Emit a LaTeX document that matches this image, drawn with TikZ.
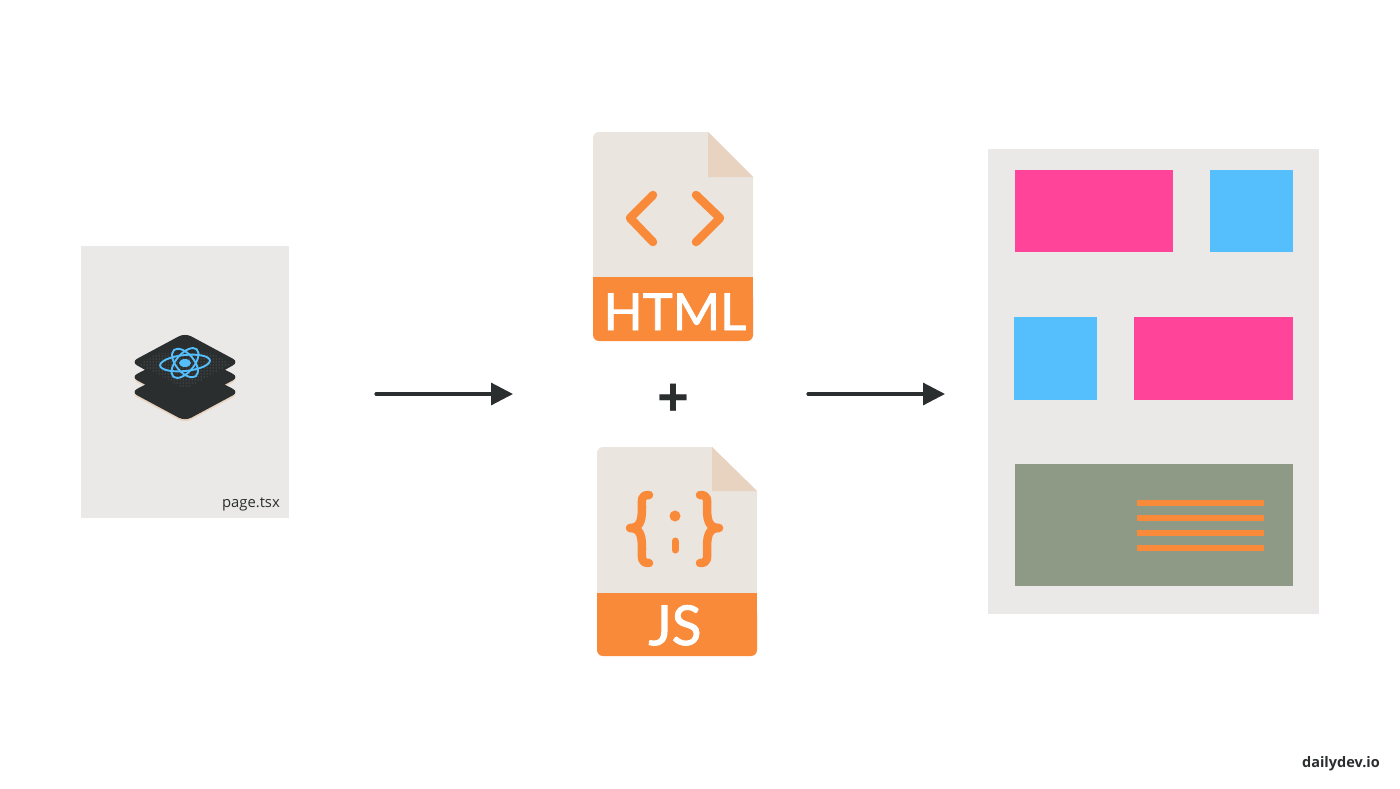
\documentclass[tikz,border=0pt]{standalone}
\usepackage{fontspec}
\setmainfont{Open Sans}
\newfontfamily\badgefont[FakeBold=1.6]{Lato}
\usetikzlibrary{arrows.meta,patterns}

\definecolor{sheetgray}{HTML}{EAE9E7}
\definecolor{docgray}{HTML}{EAE5DF}
\definecolor{foldpeach}{HTML}{E8D3C0}
\definecolor{docorange}{HTML}{F98A3A}
\definecolor{blockpink}{HTML}{FF4499}
\definecolor{blockblue}{HTML}{55BFFD}
\definecolor{blockgreen}{HTML}{8E9986}
\definecolor{inkdark}{HTML}{2A2E2E}

\tikzset{
  block/.style={inner sep=0pt, outer sep=0pt, anchor=north west},
  flowarrow/.style={line width=3.2pt, line cap=round, inkdark, -{Triangle[length=22pt,width=22pt]}},
  layer/.style={rounded corners=7pt},
  atomring/.style={draw=blockblue, line width=1.9pt},
  docline/.style={line width=8.5pt, line cap=round, docorange},
  badge/.style={inner sep=0pt, text=white, anchor=base},
  textline/.style={docorange}
}

\begin{document}
\begin{tikzpicture}[x=1pt,y=-1pt]
  \useasboundingbox (0,0) rectangle (1400,788);

  % page with the react stack
  \node[block, fill=sheetgray, minimum width=208pt, minimum height=272pt] (page) at (81,246) {};
  \foreach \dy/\col in {2/foldpeach, 0/inkdark} {
    \fill[layer, \col] (185,364+\dy) -- (239,392+\dy) -- (185,421+\dy) -- (131,392+\dy) -- cycle;
    \fill[layer, \col] (185,349+\dy) -- (239,377+\dy) -- (185,406+\dy) -- (131,377+\dy) -- cycle;
  }
  \fill[layer, inkdark] (185,333) -- (239,362) -- (185,392) -- (131,362) -- cycle;
  \fill[pattern=dots, pattern color=gray] (185,389) -- (231,364) -- (212,353) -- (158,353) -- (139,364) -- cycle;
  \begin{scope}[shift={(185,363)}]
    \draw[atomring, rotate=6] (0,0) ellipse (25 and 8);
    \draw[atomring, rotate=-50] (0,0) ellipse (17 and 9);
    \draw[atomring, rotate=50] (0,0) ellipse (18 and 9);
    \fill[blockblue] (0,0) ellipse (6 and 4);
  \end{scope}
  \node[anchor=base east, inner sep=0pt, font=\fontsize{14.8}{15}\selectfont, text=inkdark] (pagename) at (280,507) {page.tsx};

  % html file
  \begin{scope}[shift={(593,132)}]
    \fill[docgray] (0,145) -- (0,6) [rounded corners=6pt] -- (0,0) [sharp corners] -- (115,0) -- (160,45) -- (160,145) -- cycle;
    \fill[foldpeach] (115,0) -- (115,45) -- (160,45) -- cycle;
    \fill[docorange, rounded corners=6pt] (0,160) -- (0,209) -- (160,209) -- (160,160) -- cycle;
    \fill[docorange] (0,145) rectangle (160,175);
    \draw[docline, line join=round] (60,63) -- (37,86) -- (60,110);
    \draw[docline, line join=round] (103,63) -- (127,86) -- (103,110);
  \end{scope}
  \node[badge, font=\badgefont\fontsize{51}{51}\selectfont] (htmltext) at (675,330) {HTML};

  \node[inner sep=0pt, font=\bfseries\fontsize{56}{56}\selectfont, text=inkdark] (plus) at (673,401) {+};

  % js file
  \begin{scope}[shift={(597,447)}]
    \fill[docgray] (0,146) -- (0,6) [rounded corners=6pt] -- (0,0) [sharp corners] -- (115,0) -- (160,44) -- (160,146) -- cycle;
    \fill[foldpeach] (115,0) -- (115,44) -- (160,44) -- cycle;
    \fill[docorange, rounded corners=6pt] (0,160) -- (0,209) -- (160,209) -- (160,160) -- cycle;
    \fill[docorange] (0,146) rectangle (160,175);
    \draw[docline, line join=round] (52,48) .. controls (43,48) and (45,54) .. (45,60) .. controls (45,72) and (44,81) .. (33,81) .. controls (44,81) and (45,90) .. (45,102) .. controls (45,110) and (43,116) .. (52,116);
    \draw[docline, line join=round] (103,48) .. controls (112,48) and (110,54) .. (110,60) .. controls (110,72) and (111,81) .. (122,81) .. controls (111,81) and (110,90) .. (110,102) .. controls (110,110) and (112,116) .. (103,116);
    \fill[docorange] (78,69) circle (5.5);
    \draw[docline, line width=7pt] (78,94) -- (78,103);
  \end{scope}
  \node[badge, font=\badgefont\fontsize{55}{55}\selectfont] (jstext) at (675,645) {JS};

  % arrows
  \coordinate (arrowastart) at (376,394);
  \coordinate (arrowaend) at (513,394);
  \coordinate (arrowbstart) at (808,394);
  \coordinate (arrowbend) at (945,394);
  \draw[flowarrow] (arrowastart) -- (arrowaend);
  \draw[flowarrow] (arrowbstart) -- (arrowbend);

  % rendered page
  \node[block, fill=sheetgray, minimum width=331pt, minimum height=465pt] (result) at (988,149) {};
  \node[block, fill=blockpink, minimum width=158pt, minimum height=82pt] (pinka) at (1015,170) {};
  \node[block, fill=blockblue, minimum width=83pt, minimum height=82pt] (bluea) at (1210,170) {};
  \node[block, fill=blockblue, minimum width=83pt, minimum height=83pt] (blueb) at (1014,317) {};
  \node[block, fill=blockpink, minimum width=159pt, minimum height=83pt] (pinkb) at (1134,317) {};
  \node[block, fill=blockgreen, minimum width=278pt, minimum height=122pt] (footer) at (1015,464) {};
  \foreach \y in {503,518,533,548} {
    \fill[textline] (1137,\y-3) rectangle (1264,\y+3);
  }

  \node[anchor=east, inner sep=0pt, font=\bfseries\fontsize{14.5}{14.5}\selectfont, text=inkdark] (brand) at (1380,764) {dailydev.io};
\end{tikzpicture}
\end{document}
